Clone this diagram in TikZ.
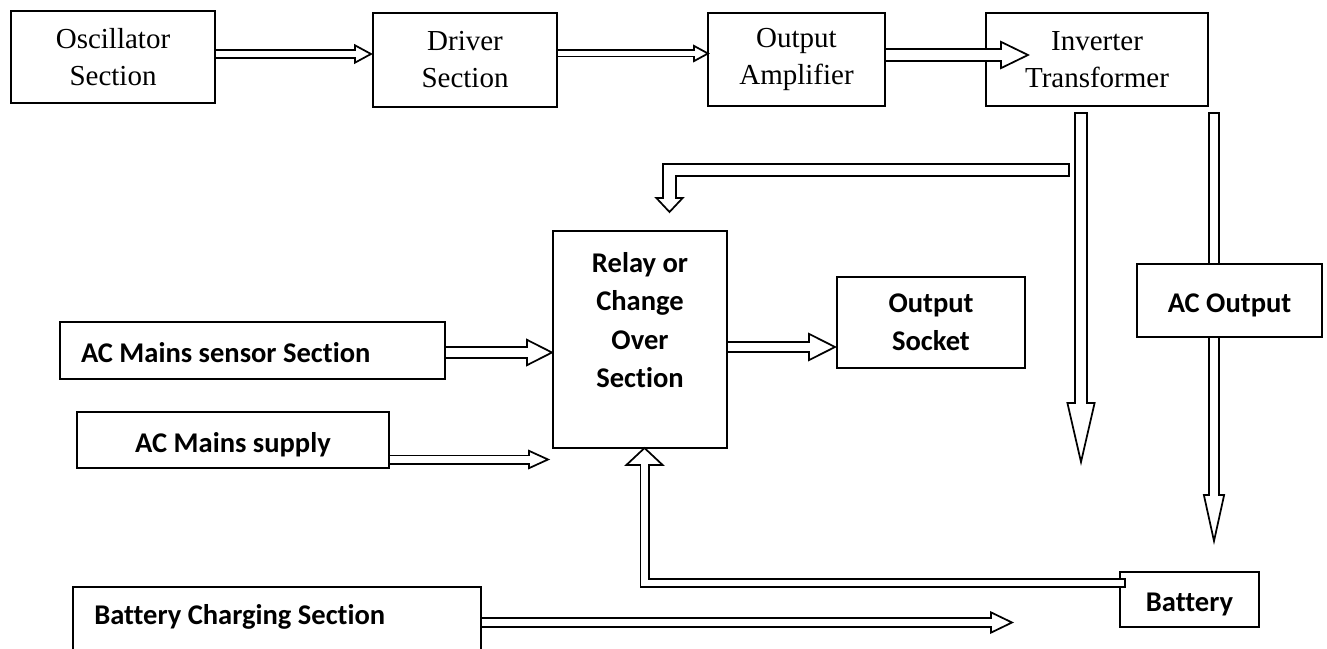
\documentclass[tikz,border=0pt]{standalone}
\usepackage{fontspec}
\setmainfont{Liberation Serif}
\newfontfamily\calibri[Ligatures = NoCommon]{Carlito}
\usetikzlibrary{calc}

\tikzset{
	blk/.style = {draw, fill = white, line width = 1.3pt, inner sep = 0pt, align = center},
	tms/.style = {font = \fontsize{21.75}{27.75}\selectfont},
	cal/.style = {font = \calibri\bfseries\fontsize{21.4}{28.7}\selectfont},
	one/.style = {text height = 19pt, text depth = 1pt},
	pipe/.style = {double = white, double distance = #1, line width = 1.3pt}
}

% open arrow head: base, tip, half width
\newcommand{\ahead}[3]{%
	\draw[fill = white, line width = 1.3pt] ($(#1)!#3!90:(#2)$) -- (#2) -- ($(#1)!#3!-90:(#2)$) -- cycle;}
% closed end of a hollow shaft
\newcommand{\acap}[3]{%
	\draw[line width = 1.3pt] ($(#1)!#3!90:(#2)$) -- ($(#1)!#3!-90:(#2)$);}

\begin{document}
\begin{tikzpicture}[x = 0.75pt, y = -0.75pt]
	\useasboundingbox (0,0) rectangle (1327,649);
	\clip (0,0) rectangle (1327,649);

	\node[blk, tms, minimum width = 153pt, minimum height = 69pt] (osc) at (113,57) {Oscillator\\Section};
	\node[blk, tms, minimum width = 138pt, minimum height = 70.5pt] (drv) at (465,60) {Driver\\Section};
	\node[blk, tms, minimum width = 132.75pt, minimum height = 69.75pt] (amp) at (796.5,59.5) {Output\\Amplifier};
	\node[blk, tms, minimum width = 166.5pt, minimum height = 69.75pt] (inv) at (1097,59.5) {Inverter\\Transformer};

	\node[blk, minimum width = 130.5pt, minimum height = 162.75pt] (relay) at (640,339.5) {};
	\node[cal, align = center, inner sep = 0pt] (relaytxt) at (640,320) {Relay or\\Change\\Over\\Section};
	\node[blk, cal, minimum width = 141pt, minimum height = 68.25pt] (socket) at (931,322.5) {Output\\Socket};
	\node[blk, cal, one, minimum width = 288.75pt, minimum height = 42.75pt, text width = 257.25pt, align = flush left] (sensor) at (252.5,350.5) {AC Mains sensor Section};
	\node[blk, cal, one, minimum width = 234pt, minimum height = 42pt] (supply) at (233,440) {AC Mains supply};
	\node[blk, cal, one, minimum width = 104.25pt, minimum height = 41.25pt] (battery) at (1189.5,599.5) {Battery};
	\node[blk, minimum width = 306pt, minimum height = 69.75pt] (charging) at (277,633.5) {};
	\node[cal, anchor = west, inner sep = 0pt] (chargingtxt) at (94,617) {Battery Charging Section};

	\coordinate (b1) at (355,54);		\coordinate (t1) at (371,54);
	\coordinate (b2) at (694,53.5);		\coordinate (t2) at (708,53.5);
	\coordinate (b3) at (1001,55);		\coordinate (t3) at (1028,55);
	\coordinate (s4) at (1069,170);		\coordinate (b4) at (669.5,198);	\coordinate (t4) at (669.5,212);
	\coordinate (s5) at (1081,113);		\coordinate (b5) at (1081,403);		\coordinate (t5) at (1081,462);
	\coordinate (s6) at (1214,113);		\coordinate (b6) at (1214,495);		\coordinate (t6) at (1214,541);
	\coordinate (b7) at (527,352.5);	\coordinate (t7) at (552,352.5);
	\coordinate (b8) at (529,459.5);	\coordinate (t8) at (548,459.5);
	\coordinate (b9) at (809,347);		\coordinate (t9) at (835,347);
	\coordinate (s10) at (1125,583);	\coordinate (b10) at (644.5,465);	\coordinate (t10) at (644.5,448);
	\coordinate (b11) at (991,622.5);	\coordinate (t11) at (1012,622.5);
	\coordinate (c4) at (s4 -| b4);
	\coordinate (c10) at (s10 -| b10);

	\ahead{b1}{t1}{6.5pt}
	\draw[pipe = 4.9pt] (osc.east |- t1) -- ($(b1)!1pt!(t1)$);
	\ahead{b2}{t2}{5.7pt}
	\draw[pipe = 3.4pt] (drv.east |- t2) -- ($(b2)!1pt!(t2)$);
	\ahead{b3}{t3}{9.85pt}
	\draw[pipe = 7.9pt] (amp.east |- t3) -- ($(b3)!1pt!(t3)$);

	\ahead{b4}{t4}{9.85pt}
	\draw[pipe = 8pt] (s4) -| ($(b4)!1pt!(t4)$);
	\acap{s4}{c4}{5.3pt}
	\ahead{b5}{t5}{10.2pt}
	\draw[pipe = 7.9pt] (s5) -- ($(b5)!1pt!(t5)$);
	\acap{s5}{t5}{5.25pt}
	\ahead{b6}{t6}{7.6pt}
	\draw[pipe = 6pt] (s6) -- ($(b6)!1pt!(t6)$);
	\acap{s6}{t6}{4.3pt}

	\ahead{b7}{t7}{9.5pt}
	\draw[pipe = 7.15pt] (sensor.east |- t7) -- ($(b7)!1pt!(t7)$);
	\ahead{b8}{t8}{6.5pt}
	\draw[pipe = 4.9pt] (supply.east |- t8) -- ($(b8)!1pt!(t8)$);
	\ahead{b9}{t9}{9.85pt}
	\draw[pipe = 6.4pt] (relay.east |- t9) -- ($(b9)!1pt!(t9)$);
	\ahead{b10}{t10}{13.6pt}
	\draw[pipe = 4.9pt] (s10) -| ($(b10)!1pt!(t10)$);
	\acap{s10}{c10}{3.75pt}
	\ahead{b11}{t11}{7.6pt}
	\draw[pipe = 5.65pt] (charging.east |- t11) -- ($(b11)!1pt!(t11)$);

	\node[blk, cal, one, minimum width = 138.75pt, minimum height = 54.75pt] (acout) at (1229.5,300.5) {AC Output};
\end{tikzpicture}
\end{document}
